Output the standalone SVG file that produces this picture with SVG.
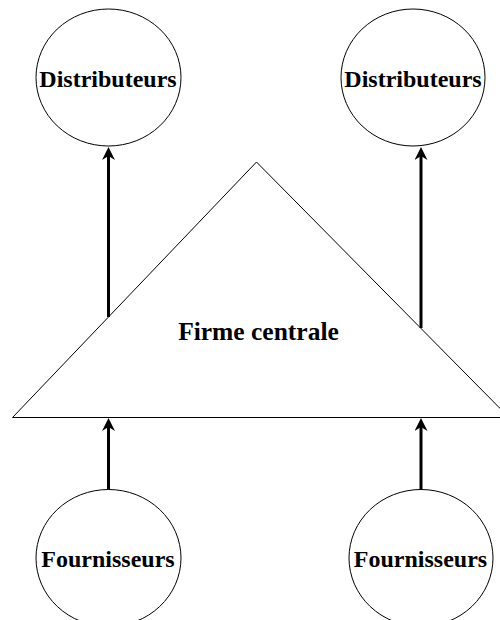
<svg xmlns="http://www.w3.org/2000/svg" width="500" height="620" viewBox="0 0 500 620">
<defs>
<style>
.node{fill:#fff;stroke:#000;stroke-width:1}
.lbl{font-family:"Liberation Serif","Times New Roman",serif;font-weight:bold;font-size:24px;text-anchor:middle;fill:#000}
.big{font-size:25.5px}
.edge{stroke:#000;stroke-width:3;fill:none;marker-end:url(#arr)}
</style>
<marker id="arr" markerUnits="userSpaceOnUse" markerWidth="14" markerHeight="14" viewBox="0 0 14 14" refX="5" refY="6.5" orient="auto">
<path d="M0,0 L13,6.5 L0,13 L4,6.5 Z" fill="#000"/>
</marker>
</defs>
<rect width="500" height="620" fill="#fff"/>
<g id="firme">
<polygon class="node" points="12.5,417.5 256.5,162 509,417.5"/>
<text class="lbl big" x="258.5" y="340">Firme centrale</text>
</g>
<g id="dist-left">
<ellipse class="node" cx="108.5" cy="77.5" rx="72.5" ry="68.5"/>
<text class="lbl" x="108" y="87.3">Distributeurs</text>
</g>
<g id="dist-right">
<ellipse class="node" cx="413" cy="77.5" rx="72" ry="68.5"/>
<text class="lbl" x="413" y="87.3">Distributeurs</text>
</g>
<g id="fourn-left">
<ellipse class="node" cx="108.5" cy="558" rx="72.5" ry="68.5"/>
<text class="lbl" x="108" y="566.7">Fournisseurs</text>
</g>
<g id="fourn-right">
<ellipse class="node" cx="421" cy="558" rx="72" ry="68.5"/>
<text class="lbl" x="420.5" y="566.7">Fournisseurs</text>
</g>
<g id="connectors">
<line class="edge" x1="108.5" y1="317" x2="108.5" y2="155"/>
<line class="edge" x1="421" y1="328" x2="421" y2="155"/>
<line class="edge" x1="108.5" y1="489.5" x2="108.5" y2="426"/>
<line class="edge" x1="421" y1="489.5" x2="421" y2="426"/>
</g>
</svg>
